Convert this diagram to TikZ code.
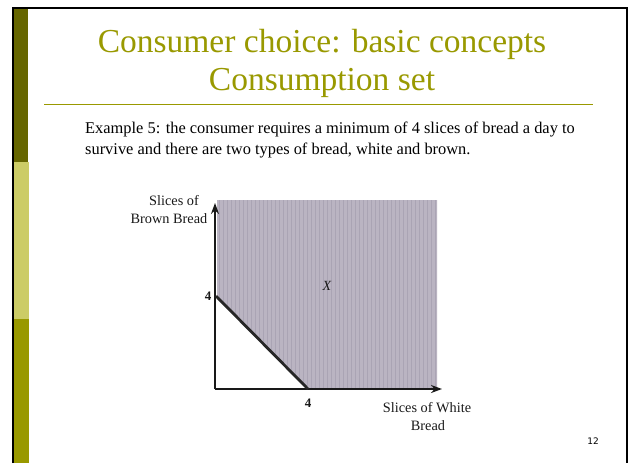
\documentclass[tikz,border=0pt]{standalone}
\usepackage{fontspec}
\setmainfont{Liberation Serif}
\newfontfamily\numfont{DejaVu Sans}
\definecolor{olive1}{HTML}{999900}
\definecolor{olivedark}{HTML}{666600}
\definecolor{olivelight}{HTML}{CCCC66}
\definecolor{regionfill}{RGB}{186,180,194}
\definecolor{regionline}{RGB}{170,164,180}
\tikzset{
  lbl/.style={inner sep=0pt, font=\fontsize{14.3}{15}\selectfont, text=black!90},
  axis/.style={line width=2.4pt, black!90, -{Stealth[length=11pt,width=8pt]}},
}
\usetikzlibrary{arrows.meta}
\begin{document}
\begin{tikzpicture}[x=1pt,y=-1pt]
\useasboundingbox (0,0) rectangle (634,463);
\fill[white] (0,0) rectangle (634,463);
% frame
\fill[olivedark] (14,8) rectangle (28,162);
\fill[olivelight] (14,162) rectangle (29,319);
\fill[olive1] (14,319) rectangle (29,463);
\draw[line width=2pt] (13,463) -- (13,8) -- (626.5,8) -- (626.5,463);
% title
\node[text=olive1, font=\fontsize{33.5}{35}\selectfont, anchor=base] (t1) at (322,52) {Consumer choice: basic concepts};
\node[text=olive1, font=\fontsize{33.5}{35}\selectfont, anchor=base] (t2) at (322,90) {Consumption set};
\draw[olive1, line width=1pt] (44,104) -- (593,104);
% body
\node[anchor=base west, inner sep=0pt, font=\fontsize{16.4}{18}\selectfont] (b1) at (85,133) {Example 5: the consumer requires a minimum of 4 slices of bread a day to};
\node[anchor=base west, inner sep=0pt, font=\fontsize{16.4}{18}\selectfont] (b2) at (85,154) {survive and there are two types of bread, white and brown.};
% graph
\fill[regionfill] (217,200) -- (437,200) -- (437,388) -- (308,388) -- (217,296) -- cycle;
\begin{scope}
\clip (217,200) -- (437,200) -- (437,388) -- (308,388) -- (217,296) -- cycle;
\foreach \i in {0,...,54} {
  \draw[regionline, line width=1pt] (219+4*\i,200) -- (219+4*\i,390);
}
\end{scope}
\coordinate (o) at (215,389);
\coordinate (ytop) at (215,203);
\coordinate (xend) at (442,389);
\coordinate (a) at (216,296);
\coordinate (b) at (308,389);
\draw[axis] (o) -- (ytop);
\draw[axis] (o) -- (xend);
\draw[line width=2.8pt, black!85] (a) -- (b);
\node[lbl] (sl1) at (174,201) {Slices of};
\node[lbl] (sl2) at (169,219) {Brown Bread};
\node[lbl, font=\fontsize{13}{14}\selectfont\bfseries] (y4) at (208,296) {4};
\node[lbl, font=\fontsize{14}{15}\selectfont\itshape] (xx) at (327,286) {X};
\node[lbl, font=\fontsize{13}{14}\selectfont\bfseries] (x4) at (308,403) {4};
\node[lbl] (sw1) at (427,408) {Slices of White};
\node[lbl] (sw2) at (428,426) {Bread};
% page number
\node[inner sep=0pt, font=\numfont\fontsize{9}{10}\selectfont] (pg) at (593,441) {12};
\end{tikzpicture}
\end{document}
